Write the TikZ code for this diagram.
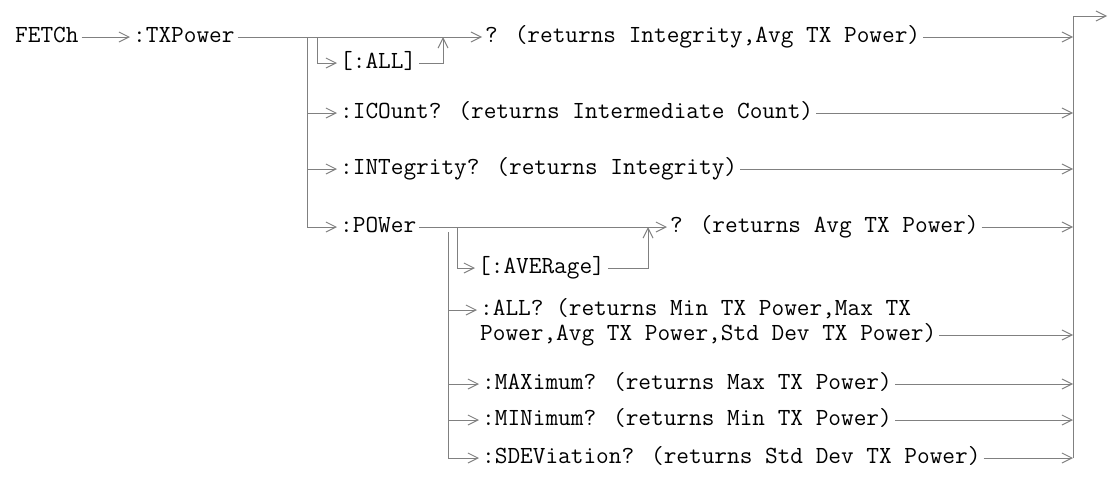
\documentclass[tikz,border=0pt]{standalone}
\usepackage{tikz}
\usetikzlibrary{arrows.meta, positioning, calc}
\definecolor{wirecolor}{RGB}{128,128,128}

\begin{document}
\begin{tikzpicture}[
    x=1pt, y=-1pt,
    cmd/.style={anchor=west, inner xsep=3pt, inner ysep=0pt, text height=12pt, text depth=1pt, font={\ttfamily\fontsize{24.6}{25}\selectfont}},
    arrow/.style={-{Straight Barb[length=10pt, width=10pt]}, wirecolor, line width=1pt},
    wire/.style={wirecolor, line width=1pt}
]
\useasboundingbox (0,0) rectangle (1108,477);

\node[cmd] (fetch) at (12,37) {FETCh};
\node[cmd] (txpower) at (130,37) {:TXPower};
\node[cmd] (allq) at (482,37) {? (returns Integrity,Avg TX Power)};
\node[cmd] (allopt) at (337,63) {[:ALL]};
\node[cmd] (icount) at (337,113) {:ICOunt? (returns Intermediate Count)};
\node[cmd] (integ) at (337,169) {:INTegrity? (returns Integrity)~};
\node[cmd] (power) at (337,227) {:POWer};
\node[cmd] (avgq) at (667,227) {? (returns Avg TX Power)};
\node[cmd] (avgopt) at (475,268) {[:AVERage]~};
\node[cmd] (powall) at (477,310) {:ALL? (returns Min TX Power,Max TX};
\node[cmd] (powallb) at (477,335) {Power,Avg TX Power,Std Dev TX Power)~};
\node[cmd] (maxq) at (479,384) {:MAXimum? (returns Max TX Power)};
\node[cmd] (minq) at (479,420) {:MINimum? (returns Min TX Power)};
\node[cmd] (sdevq) at (479,458) {:SDEViation? (returns Std Dev TX Power)};

\coordinate (txsplit) at (307,37);
\coordinate (allskip) at (317,37);
\coordinate (alljoin) at (443,37);
\coordinate (powsplit) at (448,232);
\coordinate (avgskip) at (457,227);
\coordinate (avgjoin) at (648,227);
\coordinate (bustop) at (1073,16);
\coordinate (busbot) at (1073,458);
\coordinate (busout) at (1107,16);

\draw[arrow] (fetch) -- (txpower);
\draw[arrow] (txpower) -- (allq);
\draw[arrow] (allskip) |- (allopt);
\draw[arrow] (allopt) -| (alljoin);
\draw[arrow] (txsplit) |- (icount);
\draw[arrow] (txsplit) |- (integ);
\draw[arrow] (txsplit) |- (power);
\draw[arrow] (power) -- (avgq);
\draw[arrow] (avgskip) |- (avgopt);
\draw[arrow] (avgopt) -| (avgjoin);
\draw[arrow] (powsplit) |- (powall);
\draw[arrow] (powsplit) |- (maxq);
\draw[arrow] (powsplit) |- (minq);
\draw[arrow] (powsplit) |- (sdevq);

\draw[arrow] (allq) -- (allq -| bustop);
\draw[arrow] (icount) -- (icount -| bustop);
\draw[arrow] (integ) -- (integ -| bustop);
\draw[arrow] (avgq) -- (avgq -| bustop);
\draw[arrow] (powallb) -- (powallb -| bustop);
\draw[arrow] (maxq) -- (maxq -| bustop);
\draw[arrow] (minq) -- (minq -| bustop);
\draw[arrow] (sdevq) -- (sdevq -| bustop);
\draw[wire] (busbot) -- (bustop);
\draw[arrow] (bustop) -- (busout);

\end{tikzpicture}
\end{document}
